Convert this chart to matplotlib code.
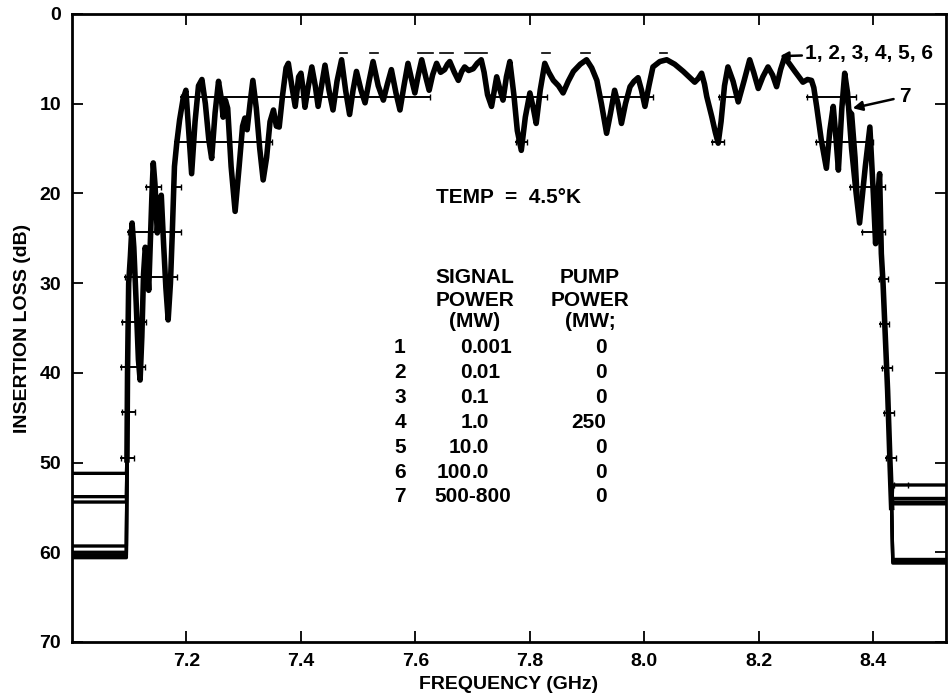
import matplotlib
matplotlib.use('Agg')
import matplotlib.pyplot as plt

plt.rcParams['font.family'] = ['Liberation Sans', 'DejaVu Sans']
plt.rcParams['font.weight'] = 'bold'

# stopband floor of each trace (dB), low side and high side
trace_ids = [1, 2, 3, 4, 5, 6, 7]
left_floor = [60.6, 60.3, 60.0, 59.3, 54.4, 53.8, 51.2]
right_floor = [61.2, 61.0, 60.8, 54.6, 54.4, 54.0, 52.5]

# passband response, traces 1-6 lie on top of each other
f_pass = [7.096, 7.097, 7.099, 7.102, 7.105, 7.108, 7.112, 7.116, 7.119, 7.122,
          7.125, 7.128, 7.131, 7.134, 7.137, 7.140, 7.142, 7.145, 7.149, 7.153,
          7.156, 7.160, 7.164, 7.168, 7.172, 7.175, 7.179, 7.183, 7.188, 7.194,
          7.199, 7.205, 7.209, 7.215, 7.221, 7.227, 7.233, 7.239, 7.244, 7.250,
          7.256, 7.261, 7.264, 7.268, 7.272, 7.278, 7.285, 7.292, 7.298, 7.302,
          7.306, 7.311, 7.316, 7.322, 7.328, 7.334, 7.340, 7.346, 7.352, 7.357,
          7.362, 7.368, 7.374, 7.378, 7.384, 7.390, 7.396, 7.400, 7.404, 7.407,
          7.413, 7.419, 7.425, 7.430, 7.436, 7.442, 7.449, 7.456, 7.463, 7.471,
          7.478, 7.485, 7.491, 7.497, 7.505, 7.512, 7.519, 7.526, 7.535, 7.544,
          7.551, 7.558, 7.566, 7.573, 7.580, 7.587, 7.593, 7.599, 7.605, 7.611,
          7.618, 7.624, 7.630, 7.637, 7.644, 7.651, 7.656, 7.660, 7.668, 7.675,
          7.681, 7.686, 7.693, 7.701, 7.708, 7.715, 7.720, 7.726, 7.733, 7.738,
          7.742, 7.748, 7.753, 7.759, 7.765, 7.772, 7.778, 7.785, 7.792, 7.800,
          7.806, 7.811, 7.818, 7.826, 7.833, 7.841, 7.850, 7.858, 7.867, 7.876,
          7.888, 7.899, 7.908, 7.917, 7.925, 7.934, 7.941, 7.948, 7.954, 7.960,
          7.967, 7.975, 7.982, 7.989, 7.995, 8.001, 8.008, 8.015, 8.027, 8.039,
          8.053, 8.068, 8.078, 8.088, 8.094, 8.100, 8.105, 8.109, 8.118, 8.124,
          8.129, 8.134, 8.140, 8.146, 8.155, 8.164, 8.174, 8.184, 8.191, 8.199,
          8.207, 8.216, 8.224, 8.231, 8.238, 8.245, 8.254, 8.263, 8.270, 8.277,
          8.285, 8.292, 8.296, 8.301, 8.309, 8.318, 8.324, 8.330, 8.335, 8.339,
          8.345, 8.350, 8.355, 8.362, 8.370, 8.376, 8.386, 8.394, 8.400, 8.404,
          8.408, 8.411, 8.414, 8.417, 8.421, 8.425, 8.429, 8.432]
loss_pass = [49.7, 40.0, 30.0, 27.0, 23.3, 26.0, 32.0, 38.5, 40.8, 36.0,
             29.0, 26.0, 27.5, 30.8, 25.0, 19.5, 16.6, 19.0, 24.4, 21.0,
             20.2, 25.6, 30.5, 34.1, 30.0, 24.8, 17.0, 14.4, 11.8, 9.5,
             8.5, 14.0, 17.8, 12.0, 8.0, 7.3, 10.0, 14.0, 16.1, 11.0,
             7.5, 9.5, 11.5, 9.6, 10.5, 17.0, 22.0, 17.0, 12.5, 11.6,
             12.9, 10.0, 7.4, 10.5, 15.0, 18.5, 16.0, 12.0, 10.7, 12.5,
             12.6, 9.0, 6.0, 5.5, 8.0, 10.3, 7.0, 6.6, 8.5, 10.4,
             8.0, 5.9, 8.0, 10.3, 8.0, 5.7, 8.5, 10.7, 7.5, 5.1,
             8.5, 11.2, 8.5, 6.4, 8.5, 9.9, 7.5, 5.3, 8.0, 9.6,
             7.8, 6.2, 8.8, 10.7, 8.0, 5.5, 7.2, 8.8, 6.8, 5.1,
             7.0, 8.5, 6.8, 5.5, 6.5, 6.2, 5.6, 5.3, 6.5, 7.4,
             6.4, 5.9, 6.3, 6.1, 5.5, 5.1, 6.5, 9.0, 10.3, 8.5,
             7.0, 8.5, 9.6, 7.0, 5.3, 9.0, 13.0, 15.2, 11.5, 8.8,
             10.5, 12.2, 8.5, 5.5, 6.5, 7.4, 8.0, 8.8, 7.5, 6.4,
             5.6, 5.1, 6.0, 7.4, 10.0, 13.3, 11.0, 8.5, 10.0, 12.2,
             10.0, 8.1, 7.5, 7.1, 8.5, 10.3, 8.0, 5.9, 5.3, 5.1,
             5.6, 6.4, 7.0, 7.6, 7.2, 6.6, 7.8, 9.2, 11.5, 13.2,
             14.4, 12.0, 8.0, 5.9, 7.5, 9.8, 7.5, 5.1, 6.5, 8.3,
             7.0, 5.9, 6.8, 8.1, 6.2, 4.8, 5.6, 6.4, 7.0, 7.6,
             7.3, 7.4, 8.2, 10.3, 14.0, 17.2, 13.0, 10.3, 14.0, 17.4,
             10.5, 6.6, 8.8, 15.0, 20.0, 23.3, 17.0, 12.6, 20.0, 25.6,
             20.0, 17.8, 26.7, 30.0, 36.0, 42.0, 49.7, 55.0]

# trace 7 (500-800 mW) leaves the others near the upper band edge
f_tail7 = [8.345, 8.350, 8.356, 8.364, 8.370, 8.376, 8.386, 8.394, 8.400, 8.404,
           8.408, 8.411, 8.414, 8.417, 8.421, 8.425, 8.429, 8.432]
loss_tail7 = [10.5, 8.8, 10.5, 11.1, 16.0, 23.3, 17.0, 12.6, 20.0, 25.6,
              20.0, 17.8, 26.7, 30.0, 36.0, 42.0, 49.7, 55.0]

# analyser calibration marks: level (dB), start and end frequency (GHz)
cal_level = [4.3, 4.3, 4.3, 4.3, 4.3, 4.3, 4.3, 4.3,
             9.3, 9.3, 9.3, 9.3, 9.3,
             14.3, 14.3, 14.3, 14.3,
             19.3, 19.3, 19.3,
             24.3, 24.3, 29.3, 29.5, 34.3, 34.5, 39.3, 39.5, 44.4, 44.5,
             49.5, 49.5, 52.5]
cal_f0 = [7.468, 7.520, 7.604, 7.643, 7.686, 7.821, 7.890, 8.027,
          7.190, 7.730, 7.922, 8.130, 8.284,
          7.180, 7.775, 8.118, 8.300,
          7.130, 7.175, 8.360,
          7.098, 8.380, 7.093, 8.410, 7.088, 8.412, 7.085, 8.416, 7.088, 8.419,
          7.085, 8.422, 8.436]
cal_f1 = [7.480, 7.535, 7.630, 7.666, 7.725, 7.835, 7.905, 8.039,
          7.625, 7.830, 8.015, 8.167, 8.370,
          7.350, 7.795, 8.140, 8.400,
          7.155, 7.190, 8.420,
          7.190, 8.420, 7.183, 8.425, 7.130, 8.428, 7.128, 8.432, 7.110, 8.436,
          7.108, 8.440, 8.460]

# legend table
row_labels = ['1', '2', '3', '4', '5', '6', '7']
signal_power = ['0.001', '0.01', '0.1', '1.0', '10.0', '100.0', '500-800']
pump_power = ['0', '0', '0', '250', '0', '0', '0']

fig = plt.figure(figsize=(9.48, 6.98), dpi=100)
ax = fig.add_axes([72 / 948, 1 - 642 / 698, (946 - 72) / 948, (642 - 14) / 698])

for lev, a, b in zip(cal_level, cal_f0, cal_f1):
    if lev < 5:
        ax.plot([a, b], [lev, lev], color='black', lw=1.2)
    else:
        ax.plot([a, b], [lev, lev], color='black', lw=1.4, marker='|',
                markersize=5, mew=1.0)

for i, lf, rf in zip(trace_ids, left_floor, right_floor):
    if i == 7:
        fx = [f for f in f_pass if f < f_tail7[0]] + f_tail7
        ly = [l for f, l in zip(f_pass, loss_pass) if f < f_tail7[0]] + loss_tail7
    else:
        fx = f_pass
        ly = loss_pass
    x = [7.0, 7.095] + fx + [8.434, 8.53]
    y = [lf, lf] + ly + [rf, rf]
    ax.plot(x, y, color='black', lw=2.4, solid_joinstyle='round')

# thicker overlay for the passband where six traces coincide
ax.plot(f_pass, loss_pass, color='black', lw=4.0, solid_joinstyle='round')

ax.set_xlim(7.0, 8.527)
ax.set_ylim(70, 0)
ax.set_xticks([7.2, 7.4, 7.6, 7.8, 8.0, 8.2, 8.4])
ax.set_xticklabels(['7.2', '7.4', '7.6', '7.8', '8.0', '8.2', '8.4'])
ax.set_yticks([0, 10, 20, 30, 40, 50, 60, 70])
ax.tick_params(direction='in', length=8, width=1.3, top=True, right=True,
               labelsize=14, pad=8)
for s in ax.spines.values():
    s.set_linewidth(2)

ax.set_xlabel('FREQUENCY (GHz)', fontsize=14, fontweight='bold', labelpad=4)
ax.set_ylabel('INSERTION LOSS (dB)', fontsize=14, fontweight='bold', labelpad=6)

fs = 15
ax.text(7.762, 20.5, 'TEMP  =  4.5°K', fontsize=fs, ha='center', va='center')

ax.text(7.704, 29.4, 'SIGNAL', fontsize=fs, ha='center', va='center')
ax.text(7.704, 31.9, 'POWER', fontsize=fs, ha='center', va='center')
ax.text(7.704, 34.3, '(MW)', fontsize=fs, ha='center', va='center')
ax.text(7.905, 29.4, 'PUMP', fontsize=fs, ha='center', va='center')
ax.text(7.905, 31.9, 'POWER', fontsize=fs, ha='center', va='center')
ax.text(7.905, 34.3, '(MW;', fontsize=fs, ha='center', va='center')

row_y = [37.2, 40.0, 42.7, 45.5, 48.3, 51.1, 53.8]
for yy, lab, sp, pp in zip(row_y, row_labels, signal_power, pump_power):
    ax.text(7.573, yy, lab, fontsize=fs, ha='center', va='center')
    if '.' in sp:
        whole, frac = sp.split('.')
        ax.text(7.699, yy, whole, fontsize=fs, ha='right', va='center')
        ax.text(7.699, yy, '.' + frac, fontsize=fs, ha='left', va='center')
    else:
        ax.text(7.634, yy, sp, fontsize=fs, ha='left', va='center')
    ax.text(7.934, yy, pp, fontsize=fs, ha='right', va='center')

ax.annotate('1, 2, 3, 4, 5, 6', xy=(8.237, 4.7), xytext=(8.280, 4.4),
            fontsize=fs, ha='left', va='center',
            arrowprops=dict(arrowstyle='-|>', color='black', lw=1.8,
                            mutation_scale=12, shrinkA=0, shrinkB=0))
ax.annotate('7', xy=(8.364, 10.5), xytext=(8.445, 9.2),
            fontsize=fs, ha='left', va='center',
            arrowprops=dict(arrowstyle='-|>', color='black', lw=1.8,
                            mutation_scale=14, shrinkA=2, shrinkB=0))

fig.savefig('out.png', dpi=100)
